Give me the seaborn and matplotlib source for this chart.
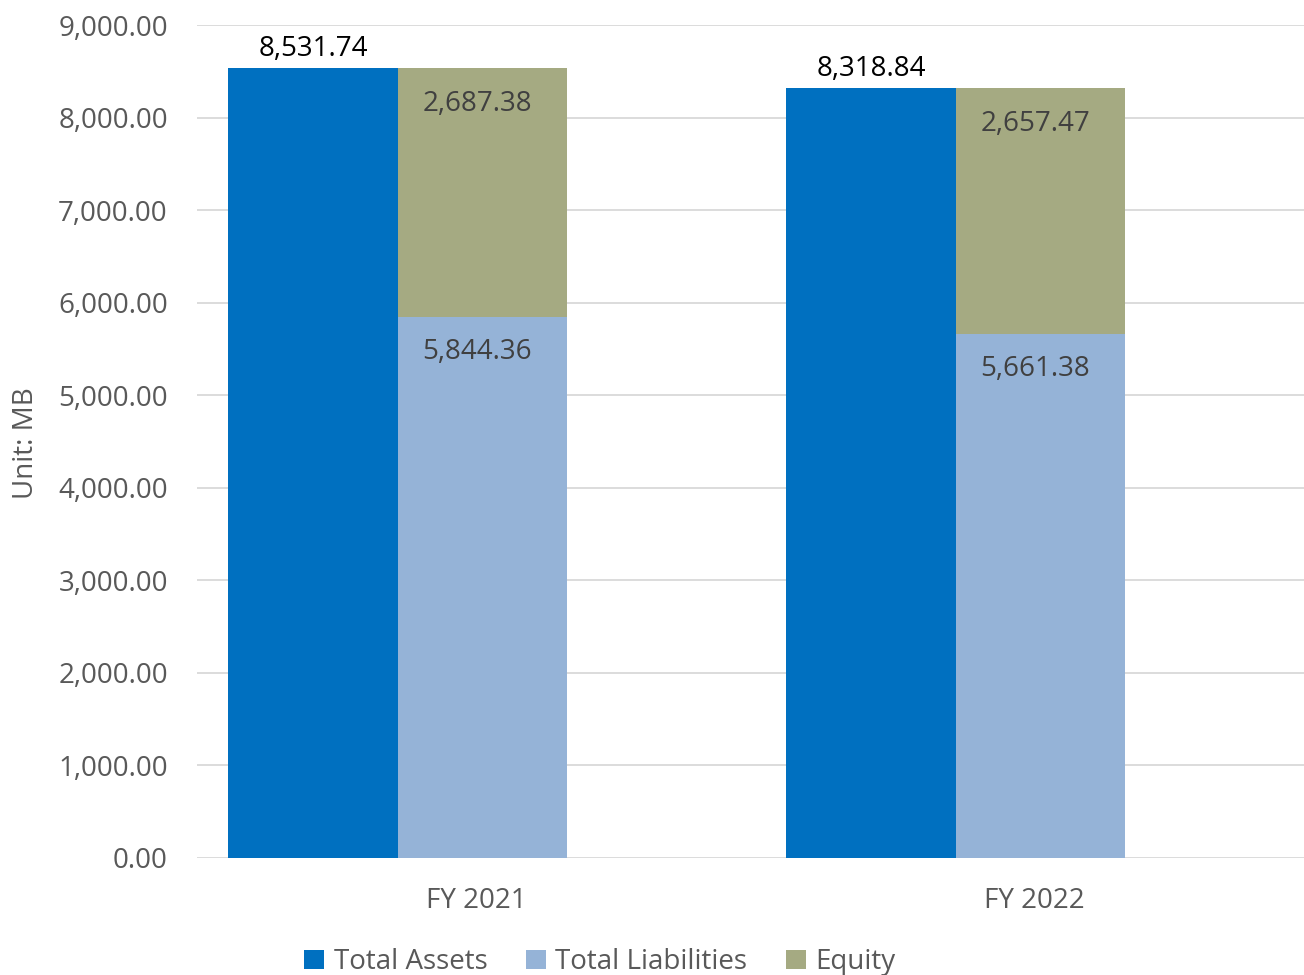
import numpy as np
import pandas as pd
import matplotlib
matplotlib.use("Agg")
import matplotlib.pyplot as plt
from matplotlib.patches import Patch
from matplotlib.ticker import FuncFormatter
import seaborn as sns

# Balance sheet figures (million baht)
years = ["FY 2021", "FY 2022"]
total_assets = [8531.74, 8318.84]
total_liabilities = [5844.36, 5661.38]
equity = [2687.38, 2657.47]

series_names = ["Total Assets", "Total Liabilities", "Equity"]
colors = {"Total Assets": "#0070C0", "Total Liabilities": "#95B3D7", "Equity": "#A5AA82"}

sns.set_theme(style="white")
plt.rcParams["font.family"] = ["Open Sans", "DejaVu Sans"]
FS = 20

fig = plt.figure(figsize=(13.04, 9.75), dpi=100)
ax = fig.add_axes([197 / 1304, 1 - 858 / 975, (1304 - 197) / 1304, (858 - 25) / 975])

# Assets bar next to a liabilities + equity stack
stack_top = [l + e for l, e in zip(total_liabilities, equity)]
hue_levels = ["Total Assets", "Stack"]

df_back = pd.DataFrame({
    "year": years * 2,
    "group": ["Total Assets"] * len(years) + ["Stack"] * len(years),
    "value": total_assets + stack_top,
})
df_front = pd.DataFrame({
    "year": years,
    "group": ["Stack"] * len(years),
    "value": total_liabilities,
})

common = dict(x="year", y="value", hue="group", hue_order=hue_levels, width=0.608,
              gap=0, dodge=True, linewidth=0, saturation=1, legend=False, ax=ax)
sns.barplot(data=df_back,
            palette={"Total Assets": colors["Total Assets"], "Stack": colors["Equity"]},
            zorder=2, **common)
n_before = len(ax.containers)
sns.barplot(data=df_front,
            palette={"Total Assets": colors["Total Assets"], "Stack": colors["Total Liabilities"]},
            zorder=3, **common)

assets_bars = list(ax.containers[0])
equity_bars = list(ax.containers[1])
liab_bars = [p for c in ax.containers[n_before:] for p in c if p.get_height() > 0]

# value labels: (bars, values, vertical offset pt, horizontal offset pt, colour)
for bars, vals, off, dx, col in [
    (assets_bars, total_assets, 14, 0, "#000000"),
    (equity_bars, equity, -26, -4, "#404040"),
    (liab_bars, total_liabilities, -25.5, -4, "#404040"),
]:
    for p, v in zip(bars, vals):
        ax.annotate(f"{v:,.2f}", xy=(p.get_x() + p.get_width() / 2, p.get_y() + p.get_height()),
                    xytext=(dx, off), textcoords="offset points", ha="center", va="center",
                    fontsize=FS, color=col, zorder=5)

ax.set_ylim(0, 9000)
ax.set_yticks(np.arange(0, 9001, 1000))
ax.yaxis.set_major_formatter(FuncFormatter(lambda v, _: f"{v:,.2f}"))
ax.set_xlim(-0.36, 1.624)
ax.set_xticks(np.arange(len(years)) + 0.14)
ax.set_xticklabels(years)

ax.grid(axis="y", color="#D9D9D9", linewidth=1.3, zorder=0)
ax.set_axisbelow(True)
for s in ax.spines.values():
    s.set_visible(False)
ax.tick_params(axis="both", length=0, labelsize=FS, labelcolor="#595959")
ax.tick_params(axis="y", pad=21)
ax.tick_params(axis="x", pad=21)
ax.set_xlabel("")
ax.set_ylabel("Unit: MB", fontsize=FS, color="#595959")
ax.yaxis.set_label_coords(-157 / 1107, (858 - 443) / 833)

handles = [Patch(facecolor=colors[n], edgecolor="none", label=n) for n in series_names]
fig.legend(handles=handles, loc="center", bbox_to_anchor=(600 / 1304, 1 - 962 / 975),
           ncol=3, frameon=False, fontsize=FS, labelcolor="#595959",
           handlelength=0.7, handleheight=0.7, handletextpad=0.35, columnspacing=1.4)

fig.savefig("out.png", dpi=100)
